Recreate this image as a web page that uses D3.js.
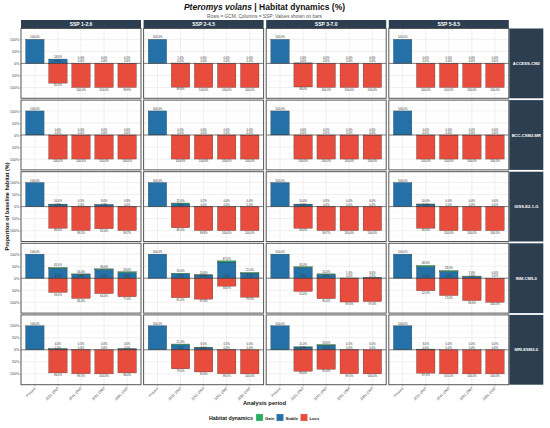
<!DOCTYPE html>
<html>
<head>
<meta charset="utf-8">
<script src="https://cdn.jsdelivr.net/npm/d3@7"></script>
<style>
  body { margin: 0; background: #fff; }
  svg { font-family: "Liberation Sans", Arial, sans-serif; }
</style>
</head>
<body>
<div id="chart"></div>
<script>
// facet layout: rows = GCM, columns = SSP
var periods = ["Present", "2021-2040", "2041-2060", "2061-2080", "2081-2100"];
var ssps = ["SSP 1-2.6", "SSP 2-4.5", "SSP 3-7.0", "SSP 5-8.5"];
var gcms = ["ACCESS-CM2", "BCC-CSM2-MR", "GISS-E2-1-G", "INM-CM5-0", "MRI-ESM2-0"];

// values in % of baseline habitat, [gcm][ssp][period]
var stable = [
    [[100, 18, 0, 0, 0.1], [100, 1.4, 0, 0, 0], [100, 2, 0, 0, 0], [100, 0, 0, 0, 0]],
    [[100, 0, 0, 0, 0], [100, 0, 0, 0, 0], [100, 0, 0, 0, 0], [100, 0, 0, 0, 0]],
    [[100, 10, 0.5, 8, 0.3], [100, 12, 0.2, 0, 0], [100, 10, 0.3, 0, 0], [100, 10, 0, 0, 0]],
    [[100, 41, 16, 36, 23], [100, 19, 13, 67, 21], [100, 45, 15, 1, 3], [100, 48, 28, 7, 0]],
    [[100, 4, 0.5, 0, 4], [100, 21, 8, 0.5, 0], [100, 11, 19, 0.5, 0], [100, 3, 0, 0, 0]]
];
var gain = [
    [[0, 0, 0, 0, 0], [0, 0, 0, 0, 0], [0, 0, 0, 0, 0], [0, 0, 0, 0, 0]],
    [[0, 0, 0, 0, 0], [0, 0, 0, 0, 0], [0, 0, 0, 0, 0], [0, 0, 0, 0, 0]],
    [[0, 0.5, 0, 0.3, 0], [0, 3, 0, 0, 0], [0, 0.5, 0, 0, 0], [0, 1, 0, 0, 0]],
    [[0, 4, 2, 3, 4], [0, 2, 2, 5, 3], [0, 3, 3, 0, 0.5], [0, 5, 4, 2, 0]],
    [[0, 0.5, 0, 0, 0.5], [0, 3, 2, 0, 0], [0, 2, 3, 0, 0], [0, 0, 0, 0, 0]]
];
var loss = [
    [[0, 82, 100, 100, 99.9], [0, 98.6, 100, 100, 100], [0, 98, 100, 100, 100], [0, 100, 100, 100, 100]],
    [[0, 100, 100, 100, 100], [0, 100, 100, 100, 100], [0, 100, 100, 100, 100], [0, 100, 100, 100, 100]],
    [[0, 90, 99.5, 92, 99.7], [0, 88, 99.8, 100, 100], [0, 90, 99.7, 100, 100], [0, 90, 100, 100, 100]],
    [[0, 59, 84, 64, 77], [0, 81, 87, 33, 79], [0, 55, 85, 99, 97], [0, 52, 72, 93, 100]],
    [[0, 96, 99.5, 100, 96], [0, 79, 92, 99.5, 100], [0, 89, 81, 99.5, 100], [0, 97, 100, 100, 100]]
];
var yTicks = [-100, -50, 0, 50, 100];
var legendKeys = ["Gain", "Stable", "Loss"];
var colors = { Gain: "#27ae60", Stable: "#2471a8", Loss: "#e74c3c" };

var W = 550, H = 428;
var left = 21, colStep = 122.6, colW = 120;
var top0 = 28.5, rowStep = 71.6, rowH = 69.8;
var navy = "#2c3e50";

var svg = d3.select("#chart").append("svg")
    .attr("width", W).attr("height", H);

function fmt(v) { return d3.format(".1f")(v) + "%"; }

// title
var title = svg.append("text")
    .attr("x", 264.5).attr("y", 10)
    .attr("text-anchor", "middle")
    .attr("font-size", "8.5px").attr("font-weight", "bold").attr("fill", "#111");
title.append("tspan").attr("font-style", "italic").text("Pteromys volans");
title.append("tspan").text(" | Habitat dynamics (%)");

svg.append("text")
    .attr("x", 264.5).attr("y", 17.5)
    .attr("text-anchor", "middle")
    .attr("font-size", "4.8px").attr("fill", "#555")
    .text("Rows = GCM, Columns = SSP; Values shown on bars");

// column strips
ssps.forEach(function(s, j) {
    var x0 = left + j * colStep;
    svg.append("rect").attr("x", x0).attr("y", 20).attr("width", colW).attr("height", 8.5)
        .attr("fill", navy);
    svg.append("text").attr("x", x0 + colW / 2).attr("y", 26)
        .attr("text-anchor", "middle").attr("font-size", "5px").attr("font-weight", "bold")
        .attr("fill", "#fff").text(s);
});

gcms.forEach(function(g, i) {
    var y0 = top0 + i * rowStep;
    var y = d3.scaleLinear().domain([-145, 145]).range([y0 + rowH, y0]);

    // row strip on right
    svg.append("rect").attr("x", 509.3).attr("y", y0).attr("width", 34).attr("height", rowH)
        .attr("fill", navy);
    svg.append("text").attr("x", 526.3).attr("y", y0 + rowH / 2 + 1.5)
        .attr("text-anchor", "middle").attr("font-size", "4.1px").attr("font-weight", "bold")
        .attr("fill", "#fff").text(g);

    ssps.forEach(function(s, j) {
        var x0 = left + j * colStep;
        var x = d3.scaleBand().domain(periods).range([x0, x0 + colW])
            .paddingInner(0.2).paddingOuter(0.2);
        var p = svg.append("g");

        // grid
        var minor = [-125, -75, -25, 25, 75, 125];
        p.selectAll(".gm").data(minor).enter().append("line")
            .attr("x1", x0).attr("x2", x0 + colW)
            .attr("y1", function(d) { return y(d); }).attr("y2", function(d) { return y(d); })
            .attr("stroke", "#f3f3f3").attr("stroke-width", 0.4);
        p.selectAll(".gy").data(yTicks).enter().append("line")
            .attr("x1", x0).attr("x2", x0 + colW)
            .attr("y1", function(d) { return y(d); }).attr("y2", function(d) { return y(d); })
            .attr("stroke", "#e6e6e6").attr("stroke-width", 0.6);
        p.selectAll(".gx").data(periods).enter().append("line")
            .attr("x1", function(d) { return x(d) + x.bandwidth() / 2; })
            .attr("x2", function(d) { return x(d) + x.bandwidth() / 2; })
            .attr("y1", y0).attr("y2", y0 + rowH)
            .attr("stroke", "#e6e6e6").attr("stroke-width", 0.6);

        var rows = periods.map(function(per, k) {
            return { per: per, stable: stable[i][j][k], gain: gain[i][j][k], loss: loss[i][j][k] };
        });

        // bars
        var bw = x.bandwidth();
        p.selectAll(".st").data(rows).enter().append("rect")
            .attr("x", function(d) { return x(d.per); }).attr("width", bw)
            .attr("y", function(d) { return y(d.stable); })
            .attr("height", function(d) { return y(0) - y(d.stable); })
            .attr("fill", colors.Stable).attr("stroke", "#333").attr("stroke-width", 0.3);
        p.selectAll(".ga").data(rows.filter(function(d) { return d.gain > 0; })).enter().append("rect")
            .attr("x", function(d) { return x(d.per); }).attr("width", bw)
            .attr("y", function(d) { return y(d.stable + d.gain); })
            .attr("height", function(d) { return y(d.stable) - y(d.stable + d.gain); })
            .attr("fill", colors.Gain).attr("stroke", "#333").attr("stroke-width", 0.3);
        p.selectAll(".lo").data(rows).enter().append("rect")
            .attr("x", function(d) { return x(d.per); }).attr("width", bw)
            .attr("y", y(0))
            .attr("height", function(d) { return y(-d.loss) - y(0); })
            .attr("fill", colors.Loss).attr("stroke", "#333").attr("stroke-width", 0.3);

        // zero line
        p.append("line").attr("x1", x0).attr("x2", x0 + colW)
            .attr("y1", y(0)).attr("y2", y(0))
            .attr("stroke", "#333").attr("stroke-width", 0.6);

        // value labels
        var lab = function(sel) {
            return sel.attr("text-anchor", "middle").attr("font-size", "2.8px").attr("fill", "#333");
        };
        // top label kept clear of the gain label sitting near zero
        lab(p.selectAll(".ls").data(rows).enter().append("text"))
            .attr("x", function(d) { return x(d.per) + bw / 2; })
            .attr("y", function(d) {
                var ty = y(d.stable + d.gain) - 1;
                return d.per === periods[0] ? ty : Math.min(ty, y(0) - 4.4);
            })
            .text(function(d) { return fmt(d.stable); });
        lab(p.selectAll(".lg").data(rows.slice(1)).enter().append("text"))
            .attr("x", function(d) { return x(d.per) + bw / 2; })
            .attr("y", y(0) - 1)
            .text(function(d) { return fmt(d.gain); });
        lab(p.selectAll(".ll").data(rows.slice(1)).enter().append("text"))
            .attr("x", function(d) { return x(d.per) + bw / 2; })
            .attr("y", function(d) { return y(-d.loss) + 3.2; })
            .text(function(d) { return fmt(d.loss); });

        // panel border
        p.append("rect").attr("x", x0).attr("y", y0).attr("width", colW).attr("height", rowH)
            .attr("fill", "none").attr("stroke", "#555").attr("stroke-width", 1);

        // y axis on first column
        if (j === 0) {
            var ay = svg.append("g").attr("transform", "translate(" + x0 + ",0)")
                .call(d3.axisLeft(y).tickValues(yTicks).tickSize(1.5)
                    .tickFormat(function(d) { return Math.abs(d) + "%"; }));
            ay.select(".domain").remove();
            ay.selectAll("line").attr("stroke", "#555").attr("stroke-width", 0.4);
            ay.selectAll("text").attr("font-size", "3.5px").attr("fill", "#444")
                .attr("x", -2).attr("font-family", "Liberation Sans, Arial, sans-serif");
        }

        // x axis on last row
        if (i === gcms.length - 1) {
            var ax = svg.append("g").attr("transform", "translate(0," + (y0 + rowH) + ")")
                .call(d3.axisBottom(x).tickSize(1.5));
            ax.select(".domain").remove();
            ax.selectAll("line").attr("stroke", "#555").attr("stroke-width", 0.4);
            ax.selectAll("text").attr("font-size", "3.5px").attr("fill", "#444")
                .attr("font-family", "Liberation Sans, Arial, sans-serif")
                .attr("text-anchor", "end").attr("dy", null).attr("y", 0)
                .attr("transform", "translate(1,4) rotate(-45)");
        }
    });
});

// axis titles
svg.append("text").attr("x", 264.5).attr("y", 405)
    .attr("text-anchor", "middle").attr("font-size", "5.8px").attr("font-weight", "bold")
    .attr("fill", "#111").text("Analysis period");
svg.append("text")
    .attr("transform", "translate(8.5,206.5) rotate(-90)")
    .attr("text-anchor", "middle").attr("font-size", "5.5px").attr("font-weight", "bold")
    .attr("fill", "#111").text("Proportion of baseline habitat (%)");

// legend
var leg = svg.append("g");
leg.append("text").attr("x", 209).attr("y", 420)
    .attr("font-size", "5.3px").attr("font-weight", "bold").attr("fill", "#111")
    .text("Habitat dynamics");
var keyX = [256, 276.5, 300.5];
legendKeys.forEach(function(k, n) {
    leg.append("rect").attr("x", keyX[n]).attr("y", 414).attr("width", 7).attr("height", 7)
        .attr("fill", colors[k]).attr("stroke", "#ccc").attr("stroke-width", 0.3);
    leg.append("text").attr("x", keyX[n] + 9).attr("y", 419.6)
        .attr("font-size", "4.2px").attr("font-weight", "bold").attr("fill", "#222").text(k);
});
</script>
</body>
</html>
